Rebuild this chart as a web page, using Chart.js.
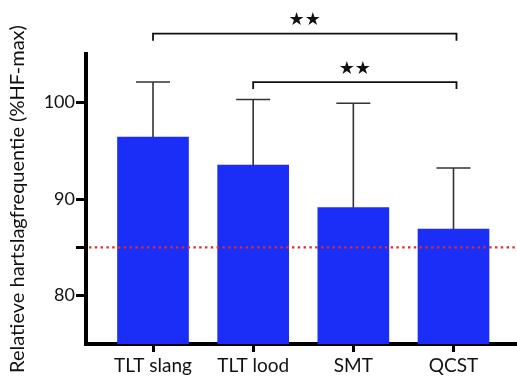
<!DOCTYPE html>
<html>
<head>
<meta charset="utf-8">
<script src="https://cdn.jsdelivr.net/npm/chart.js@4.4.1/dist/chart.umd.min.js"></script>
<style>
  html, body { margin: 0; padding: 0; background: #ffffff; }
  #wrap { width: 517px; height: 390px; position: relative; }
</style>
</head>
<body>
<div id="wrap"><canvas id="c" width="517" height="390"></canvas></div>
<script>
// ---- data ----
const categories = ['TLT slang', 'TLT lood', 'SMT', 'QCST'];
const means = [96.4, 93.5, 89.1, 86.9];
const upperSD = [5.7, 6.8, 10.8, 6.3];
const referenceValue = 85;
const yTicks = [80, 85, 90, 100];
const yTickLabels = ['80', '', '90', '100'];
const bracketFrom = [0, 1];
const bracketTo = [3, 3];
const bracketLevel = [107.1, 102.1];
const bracketLabel = ['★★', '★★'];
const yTitle = 'Relatieve hartslagfrequentie (%HF-max)';

const barPoints = categories.map((c, i) => ({ x: i, y: means[i] }));

const overlayPlugin = {
  id: 'overlay',
  afterDatasetsDraw(chart) {
    const ctx = chart.ctx;
    const xs = chart.scales.x, ys = chart.scales.y;
    const area = chart.chartArea;
    ctx.save();
    // error bars (upper)
    ctx.strokeStyle = '#333333';
    ctx.lineWidth = 1.6;
    means.forEach((m, i) => {
      const x = xs.getPixelForValue(i);
      const y0 = ys.getPixelForValue(m);
      const y1 = ys.getPixelForValue(m + upperSD[i]);
      ctx.beginPath();
      ctx.moveTo(x, y0); ctx.lineTo(x, y1);
      ctx.moveTo(x - 17, y1); ctx.lineTo(x + 17, y1);
      ctx.stroke();
    });
    // reference dotted line
    const yr = ys.getPixelForValue(referenceValue);
    ctx.strokeStyle = '#d9302c';
    ctx.lineWidth = 2.4;
    ctx.setLineDash([2.4, 3.4]);
    ctx.beginPath();
    ctx.moveTo(area.left + 3, yr); ctx.lineTo(area.right, yr);
    ctx.stroke();
    ctx.setLineDash([]);
    // significance brackets
    ctx.strokeStyle = '#111111';
    ctx.lineWidth = 1.8;
    ctx.fillStyle = '#111111';
    ctx.font = '18px "DejaVu Sans"';
    ctx.textAlign = 'center';
    ctx.textBaseline = 'middle';
    bracketLevel.forEach((lv, i) => {
      const xa = xs.getPixelForValue(bracketFrom[i]);
      const xb = xs.getPixelForValue(bracketTo[i]) + 3;
      const y = ys.getPixelForValue(lv);
      ctx.beginPath();
      ctx.moveTo(xa, y + 7); ctx.lineTo(xa, y); ctx.lineTo(xb, y); ctx.lineTo(xb, y + 7);
      ctx.stroke();
      ctx.fillText(bracketLabel[i], (xa + xb) / 2, y - 13);
    });
    ctx.restore();
  }
};

new Chart(document.getElementById('c'), {
  type: 'bar',
  data: {
    datasets: [{
      data: barPoints,
      backgroundColor: '#1a2ef7',
      borderWidth: 0,
      barThickness: 71
    }]
  },
  options: {
    responsive: false,
    animation: false,
    layout: { padding: { top: 54, right: 0, left: 0, bottom: 0 } },
    plugins: { legend: { display: false }, tooltip: { enabled: false } },
    scales: {
      x: {
        type: 'linear',
        min: -0.669,
        max: 3.634,
        offset: false,
        afterBuildTicks(scale) { scale.ticks = categories.map((c, i) => ({ value: i })); },
        afterFit(scale) { scale.height = 46; },
        ticks: {
          callback: (v) => categories[v],
          color: '#111111',
          font: { family: 'Lato', size: 19 },
          padding: 2,
          autoSkip: false,
          maxRotation: 0
        },
        grid: { offset: false, drawOnChartArea: false, drawTicks: true, tickLength: 8, color: '#000000', lineWidth: 3 },
        border: { display: true, color: '#000000', width: 4 }
      },
      y: {
        min: 75,
        max: 105,
        afterBuildTicks(scale) { scale.ticks = yTicks.map(v => ({ value: v })); },
        afterFit(scale) { scale.width = 86; },
        ticks: {
          callback: (v) => yTickLabels[yTicks.indexOf(v)],
          color: '#111111',
          font: { family: 'Lato', size: 18 },
          padding: 1
        },
        grid: { drawOnChartArea: false, drawTicks: true, tickLength: 10, color: '#000000', lineWidth: 3 },
        border: { display: true, color: '#000000', width: 4 },
        title: {
          display: true,
          text: yTitle,
          color: '#111111',
          font: { family: 'Lato', size: 20 },
          padding: { top: 6, bottom: 0 }
        }
      }
    }
  },
  plugins: [overlayPlugin]
});
</script>
</body>
</html>
